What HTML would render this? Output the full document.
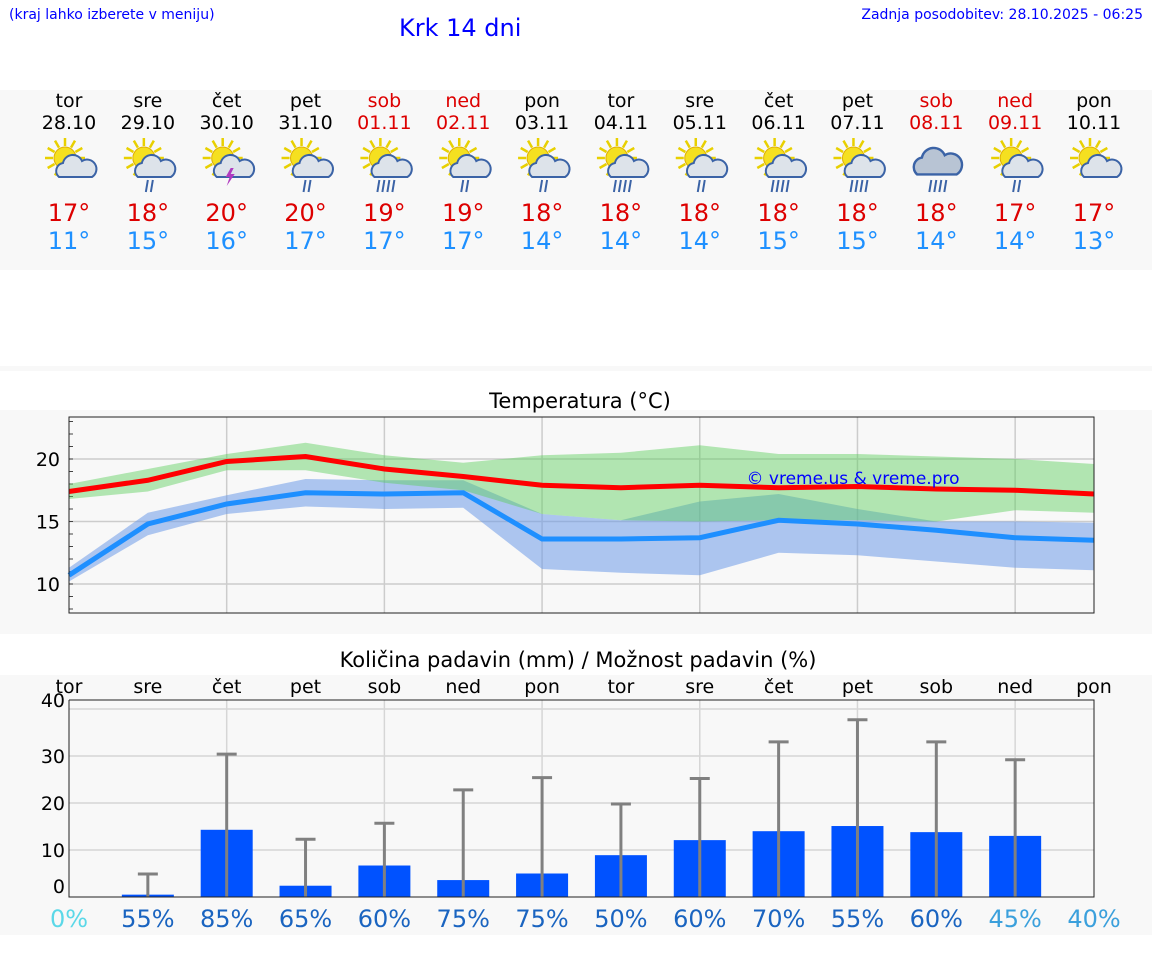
<!DOCTYPE html>
<html><head><meta charset="utf-8"><style>
body{margin:0;width:1152px;height:975px;background:#fff;font-family:"DejaVu Sans","Liberation Sans",sans-serif;position:relative;overflow:hidden}
.abs{position:absolute}
</style></head><body>
<div class="abs" style="left:9px;top:7px;font-size:14px;color:#00f">(kraj lahko izberete v meniju)</div>
<div class="abs" style="left:399px;top:14px;font-size:24px;color:#00f">Krk 14 dni</div>
<div class="abs" style="right:9px;top:7px;font-size:14px;color:#00f">Zadnja posodobitev: 28.10.2025 - 06:25</div>
<div class="abs" style="left:0;top:90px;width:1152px;height:180px;background:#f8f8f8"></div>
<div class="abs" style="left:0;top:366px;width:1152px;height:5px;background:#f8f8f8"></div>
<div class="abs" style="left:0;top:410px;width:1152px;height:224px;background:#f8f8f8"></div>
<div class="abs" style="left:0;top:675px;width:1152px;height:260px;background:#f8f8f8"></div>
<svg id="s" class="abs" style="left:0;top:0" width="1152" height="975"></svg>
<script>
const days=["tor","sre","čet","pet","sob","ned","pon","tor","sre","čet","pet","sob","ned","pon"];
const dates=["28.10","29.10","30.10","31.10","01.11","02.11","03.11","04.11","05.11","06.11","07.11","08.11","09.11","10.11"];
const weekend=[0,0,0,0,1,1,0,0,0,0,0,1,1,0];
const hiT=[17,18,20,20,19,19,18,18,18,18,18,18,17,17];
const loT=[11,15,16,17,17,17,14,14,14,15,15,14,14,13];
const icons=["sc","scr","st","scr","scrr","scr","scr","scrr","scr","scrr","scrr","cr","scr","sc"];
const maxLine=[17.4,18.3,19.8,20.2,19.2,18.6,17.9,17.7,17.9,17.7,17.8,17.6,17.5,17.2];
const maxHi=[18.0,19.2,20.4,21.3,20.3,19.7,20.3,20.5,21.1,20.4,20.4,20.2,20.0,19.6];
const maxLo=[16.8,17.4,19.1,19.1,18.1,17.5,15.6,15.1,15.0,15.1,15.1,15.0,15.9,15.7];
const minLine=[10.7,14.8,16.4,17.3,17.2,17.3,13.6,13.6,13.7,15.1,14.8,14.3,13.7,13.5];
const minHi=[11.3,15.7,17.1,18.4,18.3,18.3,15.6,15.1,16.6,17.2,16.0,15.0,15.0,14.9];
const minLo=[10.2,13.9,15.6,16.2,16.0,16.1,11.2,10.9,10.7,12.5,12.3,11.8,11.3,11.1];
const tempTicks=[10,15,20];
const rain=[0,0.5,14.3,2.4,6.7,3.6,5,8.9,12.1,14,15.1,13.8,13,0];
const rainMax=[0,4.9,30.4,12.3,15.7,22.8,25.4,19.8,25.2,33,37.7,33,29.2,0];
const prob=[0,55,85,65,60,75,75,50,60,70,55,60,45,40];
const rainTicks=[0,10,20,30,40];
const S=document.getElementById('s'),NS='http://www.w3.org/2000/svg';
function el(t,a,p){const e=document.createElementNS(NS,t);for(const k in a)e.setAttribute(k,a[k]);(p||S).appendChild(e);return e}
function tx(x,y,s,a){const e=el('text',Object.assign({x:x,y:y,'font-family':'DejaVu Sans, Liberation Sans, sans-serif','text-anchor':'middle'},a));e.textContent=s;return e}
const X=i=>69+i*(1025/13);
const TY=t=>459+(20-t)*12.5;
const RY=v=>897-v*4.7;
days.forEach((d,i)=>{
 const x=X(i),c=weekend[i]?'#d00':'#000';
 let e=tx(x,107,d,{'font-size':19,fill:c});
 
 
 e=tx(x,129,dates[i],{'font-size':19,fill:c});
 
 
 const g=el('g',{transform:`translate(${x},170)`});
 
 
 const ic=icons[i];
 if(ic[0]=='s'){for(let k=0;k<12;k++){const a=k*Math.PI/6;el('line',{x1:-4+Math.cos(a)*12,y1:-12+Math.sin(a)*12,x2:-4+Math.cos(a)*20,y2:-12+Math.sin(a)*20,stroke:'#e8d000','stroke-width':2.5},g)}el('circle',{cx:-4,cy:-12,r:11,fill:'#f5e020',stroke:'#e0b000'},g)}
 if(ic.includes('c')||ic=='st'){const cx=ic[0]=='s'?8:2;el('path',{d:`M${cx-18},7 a8,8 0 0 1 4,-14 a10,10 0 0 1 19,-2 a8,8 0 0 1 10,16 z`,fill:ic=='cr'?'#b8c4d4':'#dde3ea',stroke:'#3b63a6','stroke-width':2,transform:ic=='cr'?'translate(0,-4) scale(1.2)':''},g)}
 if(ic=='st'){el('path',{d:'M4,-2 l-5,9 h4 l-3,9 l8,-12 h-4 l3,-6z',fill:'#b03ac0'},g)}
 const nr=ic.endsWith('rr')||ic=='cr'?4:(ic.endsWith('r')?2:0);
 for(let k=0;k<nr;k++){el('line',{x1:k*5-(nr-2)*2.5,y1:10,x2:-2+k*5-(nr-2)*2.5,y2:22,stroke:'#3b63a6','stroke-width':2},g)}
 e=tx(x,221,hiT[i]+'°',{'font-size':24,fill:'#d00'});
 
 
 e=tx(x,249,loT[i]+'°',{'font-size':24,fill:'#1e90ff'});
 
 
});
let e=tx(580,408,'Temperatura (°C)',{'font-size':21,fill:'#000'});


el('rect',{x:69,y:417,width:1025,height:196,fill:'#f8f8f8'});
for(let i=2;i<14;i+=2){el('line',{x1:X(i),x2:X(i),y1:417,y2:613,stroke:'#ccc','stroke-width':1.5})}
tempTicks.forEach(t=>{el('line',{x1:69,x2:1094,y1:TY(t),y2:TY(t),stroke:'#ccc','stroke-width':1.5});
 const l=tx(60,TY(t)+7,t,{'font-size':19,'text-anchor':'end'});
 
 });
for(let t=8;t<=23;t++){el('line',{x1:69,x2:73,y1:TY(t),y2:TY(t),stroke:'#444'})}
function band(hi,lo,c,o,n){const p=hi.map((v,i)=>X(i)+','+TY(v)).concat(lo.map((v,i)=>X(i)+','+TY(v)).reverse());const b=el('polygon',{points:p.join(' '),fill:c,'fill-opacity':o});
 
 }
band(minHi,minLo,'#6d9be8',0.55,'min-temp-range');
band(maxHi,maxLo,'#5ccf5a',0.45,'max-temp-range');
function line(v,c,n){const l=el('polyline',{points:v.map((t,i)=>X(i)+','+TY(t)).join(' '),fill:'none',stroke:c,'stroke-width':5});
 
 }
line(minLine,'#1e8fff','min-temp-line');
line(maxLine,'#ff0000','max-temp-line');
el('rect',{x:69,y:417,width:1025,height:196,fill:'none',stroke:'#222'});
e=tx(853,484,'© vreme.us & vreme.pro',{'font-size':17,fill:'#00f'});


e=tx(578,667,'Količina padavin (mm) / Možnost padavin (%)',{'font-size':21});


el('rect',{x:69,y:700,width:1025,height:197,fill:'#f8f8f8'});
rainTicks.forEach(t=>{if(t>0)el('line',{x1:69,x2:1094,y1:RY(t),y2:RY(t),stroke:'#d6d6d6','stroke-width':1.5});
 const l=tx(65,t==0?893:(t==40?707:RY(t)+7),t,{'font-size':19,'text-anchor':'end'});
 
 });
for(let i=2;i<14;i+=2){el('line',{x1:X(i),x2:X(i),y1:700,y2:897,stroke:'#d6d6d6','stroke-width':1.5})}
days.forEach((d,i)=>{const x=X(i);
 let l=tx(x,693,d,{'font-size':19});
 
 
 if(rain[i]>0){const b=el('rect',{x:x-26,y:RY(rain[i]),width:52,height:897-RY(rain[i]),fill:'#0052ff'});
 
 }
 if(rainMax[i]>0){const g=el('g',{stroke:'#808080','stroke-width':3});
 
 
 el('line',{x1:x,x2:x,y1:897,y2:RY(rainMax[i])},g);el('line',{x1:x-10,x2:x+10,y1:RY(rainMax[i]),y2:RY(rainMax[i])},g);}
 const pc=prob[i]==0?'#5bd8e8':(prob[i]<50?'#3ba0dc':'#1a64c0');
 l=tx(x,927,prob[i]+'%',{'font-size':24,fill:pc});
 
 
});
el('polyline',{points:'69,700 1094,700 1094,897 69,897 69,700',fill:'none',stroke:'#222'});
</script>
</body></html>
